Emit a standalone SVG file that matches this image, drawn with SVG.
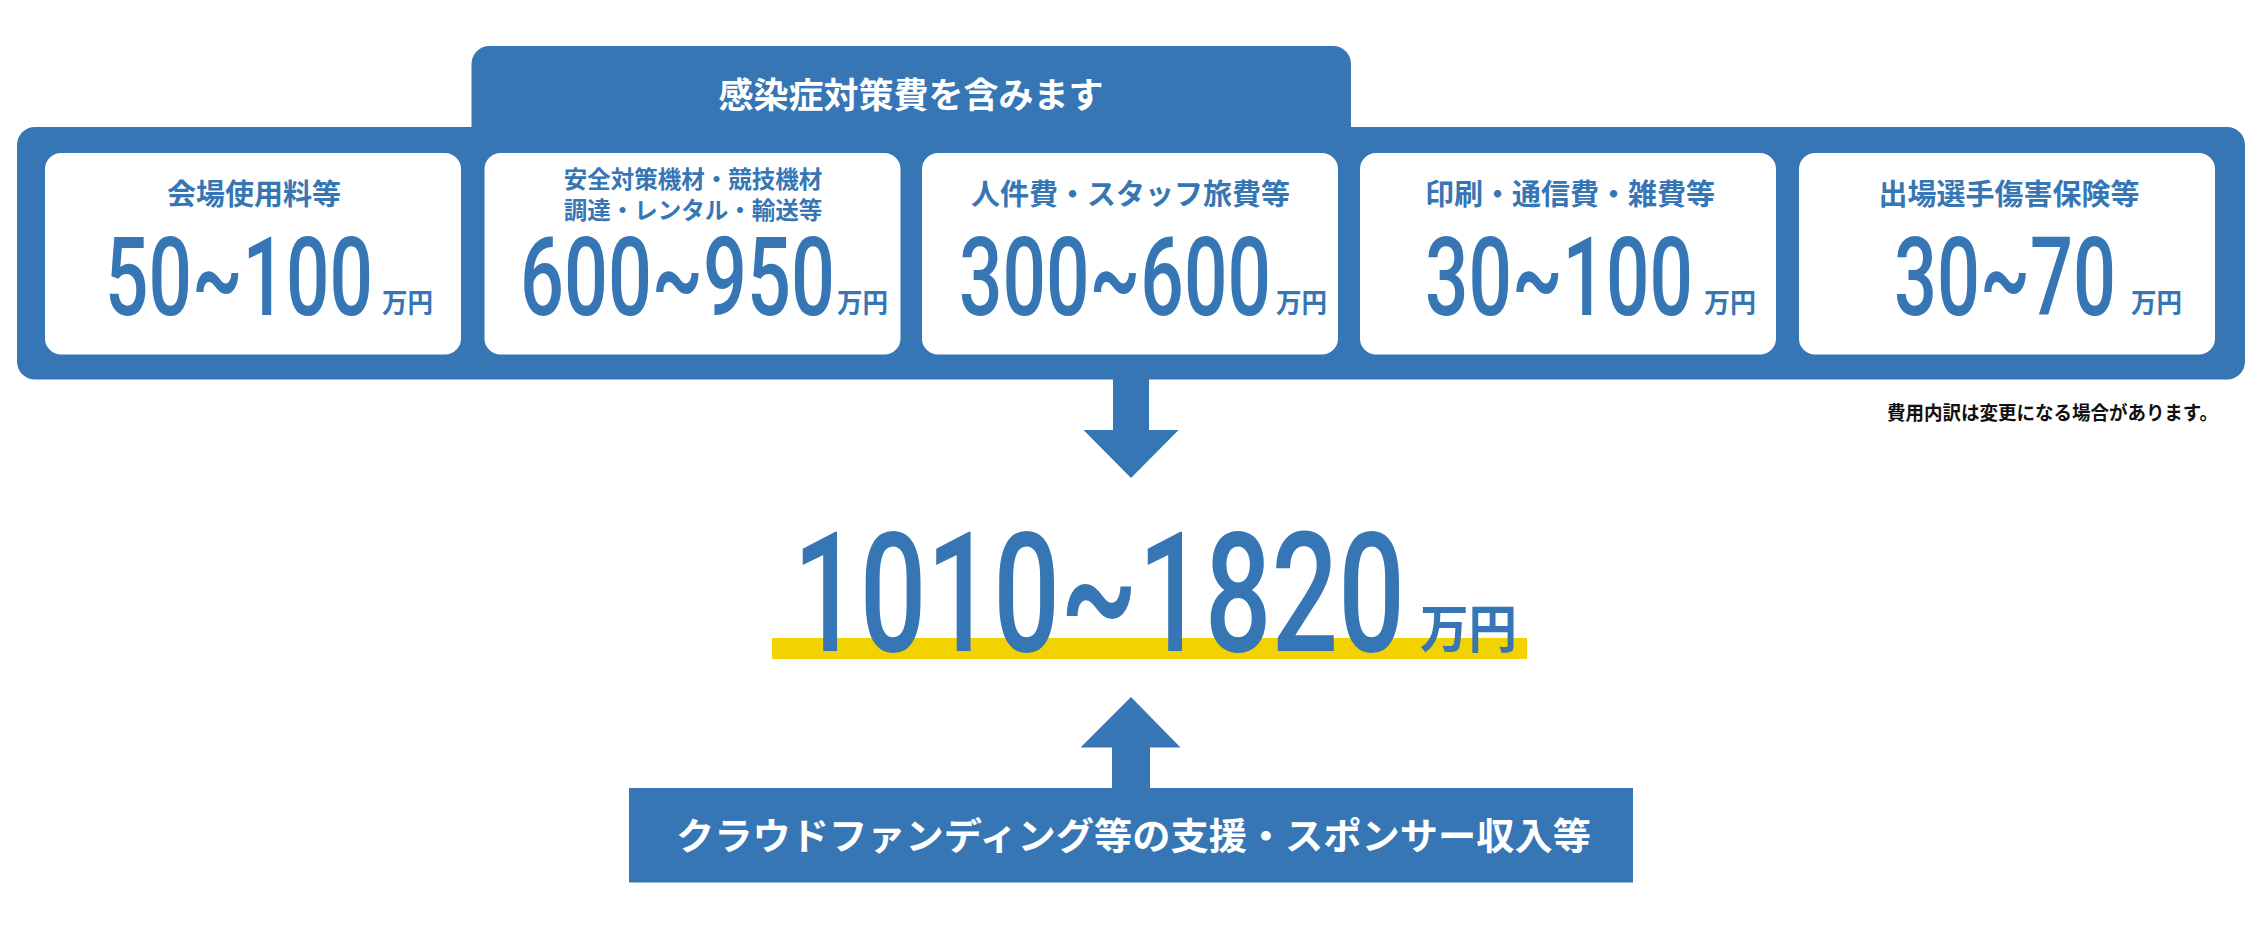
<svg xmlns="http://www.w3.org/2000/svg" width="2260" height="934" viewBox="0 0 2260 934">
<style>
.blue{fill:#3776B4}
.card{fill:#ffffff}
.ttl{font-family:"Noto Sans CJK JP","Noto Sans",sans-serif;font-weight:700;fill:#3776B4;text-anchor:middle}
.num{font-family:Roboto,"Liberation Sans",sans-serif;font-weight:500;fill:#3776B4}
.yen{font-family:"Noto Sans CJK JP",sans-serif;font-weight:700;fill:#3776B4}
.wt{font-family:"Noto Sans CJK JP","Noto Sans",sans-serif;font-weight:700;fill:#ffffff}
.note{font-family:"Noto Sans CJK JP","Noto Sans",sans-serif;font-weight:700;fill:#111111;font-size:19px}
</style>
<rect width="2260" height="934" fill="#ffffff"/>
<g id="container">
  <rect class="blue" x="471.5" y="46" width="879.5" height="120" rx="18"/>
  <rect class="blue" x="17" y="127" width="2228" height="252.5" rx="18"/>
  <text class="wt" x="911" y="108" font-size="35" text-anchor="middle">感染症対策費を含みます</text>
</g>
<g id="card1">
  <rect class="card" x="45" y="153" width="416" height="201.5" rx="16"/>
  <text class="ttl" x="254" y="205" font-size="29">会場使用料等</text>
  <text class="num" x="105" y="315" font-size="110" textLength="268" lengthAdjust="spacingAndGlyphs">50~100</text>
  <text class="yen" x="382" y="313" font-size="27" textLength="51" lengthAdjust="spacingAndGlyphs">万円</text>
</g>
<g id="card2">
  <rect class="card" x="484.5" y="153" width="416" height="201.5" rx="16"/>
  <text class="ttl" x="693" y="187.5" font-size="23.5">安全対策機材・競技機材</text>
  <text class="ttl" x="693" y="218.5" font-size="23.5">調達・レンタル・輸送等</text>
  <text class="num" x="520" y="315" font-size="110" textLength="315" lengthAdjust="spacingAndGlyphs">600~950</text>
  <text class="yen" x="837" y="313" font-size="27" textLength="51" lengthAdjust="spacingAndGlyphs">万円</text>
</g>
<g id="card3">
  <rect class="card" x="922" y="153" width="416" height="201.5" rx="16"/>
  <text class="ttl" x="1130.5" y="205" font-size="29">人件費・スタッフ旅費等</text>
  <text class="num" x="959" y="315" font-size="110" textLength="312" lengthAdjust="spacingAndGlyphs">300~600</text>
  <text class="yen" x="1276" y="313" font-size="27" textLength="51" lengthAdjust="spacingAndGlyphs">万円</text>
</g>
<g id="card4">
  <rect class="card" x="1360" y="153" width="416" height="201.5" rx="16"/>
  <text class="ttl" x="1570" y="205" font-size="29">印刷・通信費・雑費等</text>
  <text class="num" x="1425" y="315" font-size="110" textLength="268" lengthAdjust="spacingAndGlyphs">30~100</text>
  <text class="yen" x="1704" y="313" font-size="27" textLength="52" lengthAdjust="spacingAndGlyphs">万円</text>
</g>
<g id="card5">
  <rect class="card" x="1799" y="153" width="416" height="201.5" rx="16"/>
  <text class="ttl" x="2009" y="205" font-size="29">出場選手傷害保険等</text>
  <text class="num" x="1894" y="315" font-size="110" textLength="222" lengthAdjust="spacingAndGlyphs">30~70</text>
  <text class="yen" x="2131" y="313" font-size="27" textLength="51" lengthAdjust="spacingAndGlyphs">万円</text>
</g>
<g id="note">
  <text class="note" x="1887" y="420" textLength="331" lengthAdjust="spacingAndGlyphs">費用内訳は変更になる場合があります。</text>
</g>
<g id="connectors">
  <polygon class="blue" points="1113,379 1149,379 1149,430 1178.6,430 1131,478 1083.5,430 1113,430"/>
  <polygon class="blue" points="1131,697 1180.5,747.5 1150,747.5 1150,789 1112,789 1112,747.5 1080.5,747.5"/>
</g>
<g id="total">
  <rect x="772" y="638" width="755" height="21" fill="#F2D200"/>
  <text class="num" x="793" y="651" font-size="167" textLength="612" lengthAdjust="spacingAndGlyphs">1010~1820</text>
  <text class="yen" x="1420" y="648" font-size="52" textLength="97" lengthAdjust="spacingAndGlyphs">万円</text>
</g>
<g id="funding">
  <rect class="blue" x="629" y="788" width="1004" height="94.5"/>
  <text class="wt" x="676" y="850" font-size="37" textLength="915" lengthAdjust="spacingAndGlyphs">クラウドファンディング等の支援・スポンサー収入等</text>
</g>
</svg>
